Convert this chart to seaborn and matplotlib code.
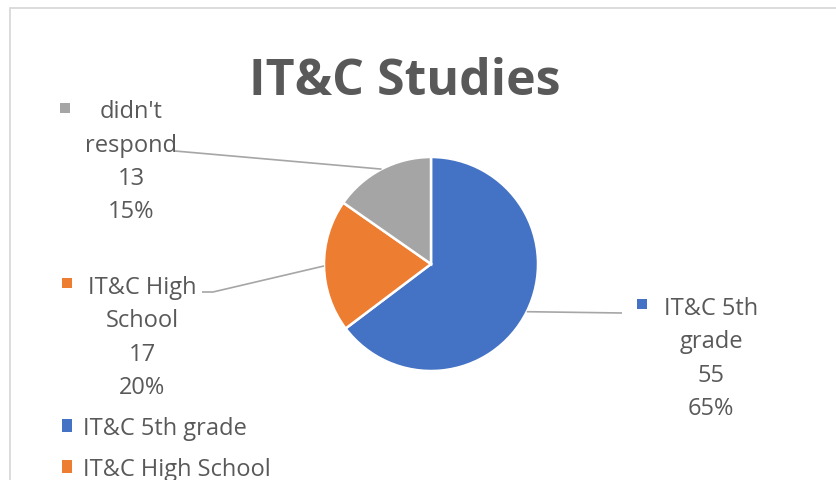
import numpy as np
import matplotlib
matplotlib.use("Agg")
import matplotlib.pyplot as plt
from matplotlib.patches import Rectangle
from matplotlib.lines import Line2D
from matplotlib.transforms import IdentityTransform
import seaborn as sns

# ---- data ----
categories = ["IT&C 5th grade", "IT&C High School", "didn't respond"]
values = [55, 17, 13]
label_lines = [["IT&C 5th", "grade"], ["IT&C High", "School"], ["didn't", "respond"]]
colors = ["#4472C4", "#ED7D31", "#A5A5A5"]
title = "IT&C Studies"

sns.set_theme(style="white")
plt.rcParams["font.family"] = ["Open Sans", "DejaVu Sans"]

W, H = 837, 481
fig = plt.figure(figsize=(W / 100, H / 100), dpi=100)
fig.patch.set_facecolor("white")

def fx(x):
    return x / W

def fy(y):
    return 1 - y / H

TXT = "#595959"
LEAD = "#A6A6A6"

# chart border (light gray)
fig.add_artist(Rectangle((fx(10), fy(9) - 2), 2, 2, transform=fig.transFigure,
                         fill=False, edgecolor="#D9D9D9", linewidth=1.3))

# pie axes: centre (431,265), radius 107 px
cx, cy, r = 431, 265, 107
ax = fig.add_axes([fx(cx - r), fy(cy + r), 2 * r / W, 2 * r / H])
wedges, _ = ax.pie(values, colors=colors, startangle=90, counterclock=False,
                   radius=1.0,
                   wedgeprops=dict(edgecolor="white", linewidth=1.8))
ax.set_xlim(-1, 1)
ax.set_ylim(-1, 1)
ax.set_aspect("equal")
ax.axis("off")

total = sum(values)
pcts = [f"{round(v / total * 100):d}%" for v in values]

# label layout (centre x, first baseline y, marker x, marker y, leader anchor points)
layout = [
    dict(cx=711, y0=315, mx=637, my=300, lead=[(622, 314)]),
    dict(cx=142.5, y0=294, mx=62, my=279, lead=[(202, 293), (213, 293)]),
    dict(cx=131.5, y0=118, mx=60, my=104, lead=[(175, 152)]),
]
step = 33.5
fs = 17

for i, (w, lay) in enumerate(zip(wedges, layout)):
    lines = label_lines[i] + [str(values[i]), pcts[i]]
    for k, s in enumerate(lines):
        fig.text(fx(lay["cx"]), fy(lay["y0"] + k * step), s, ha="center",
                 va="baseline", fontsize=fs, color=TXT)
    fig.add_artist(Rectangle((fx(lay["mx"]), fy(lay["my"] + 10)), 10 / W, 10 / H,
                             transform=fig.transFigure, facecolor=colors[i],
                             edgecolor="none"))
    # leader line from wedge middle on the rim to the label
    theta = np.deg2rad((w.theta1 + w.theta2) / 2)
    px, py = ax.transData.transform((np.cos(theta), np.sin(theta)))
    pts = [(x, H - y) for (x, y) in lay["lead"]]
    xs = [p[0] for p in pts] + [px]
    ys = [p[1] for p in pts] + [py]
    fig.add_artist(Line2D(xs, ys, transform=IdentityTransform(), color=LEAD,
                          linewidth=1.2, solid_capstyle="butt"))

# title
fig.text(fx(405), fy(95), title, ha="center", va="baseline", fontsize=36,
         fontweight="bold", color=TXT)

# legend (bottom-left, partly cut off by the chart edge)
leg = fig.legend(wedges, categories, loc="upper left",
                 bbox_to_anchor=(fx(62), fy(417)), frameon=False,
                 fontsize=fs, labelcolor=TXT, handlelength=0.42,
                 handleheight=0.42, handletextpad=0.45, labelspacing=0.72,
                 borderpad=0, borderaxespad=0)
for h in leg.legend_handles:
    h.set_edgecolor("none")

fig.savefig("out.png", dpi=100, facecolor="white")
